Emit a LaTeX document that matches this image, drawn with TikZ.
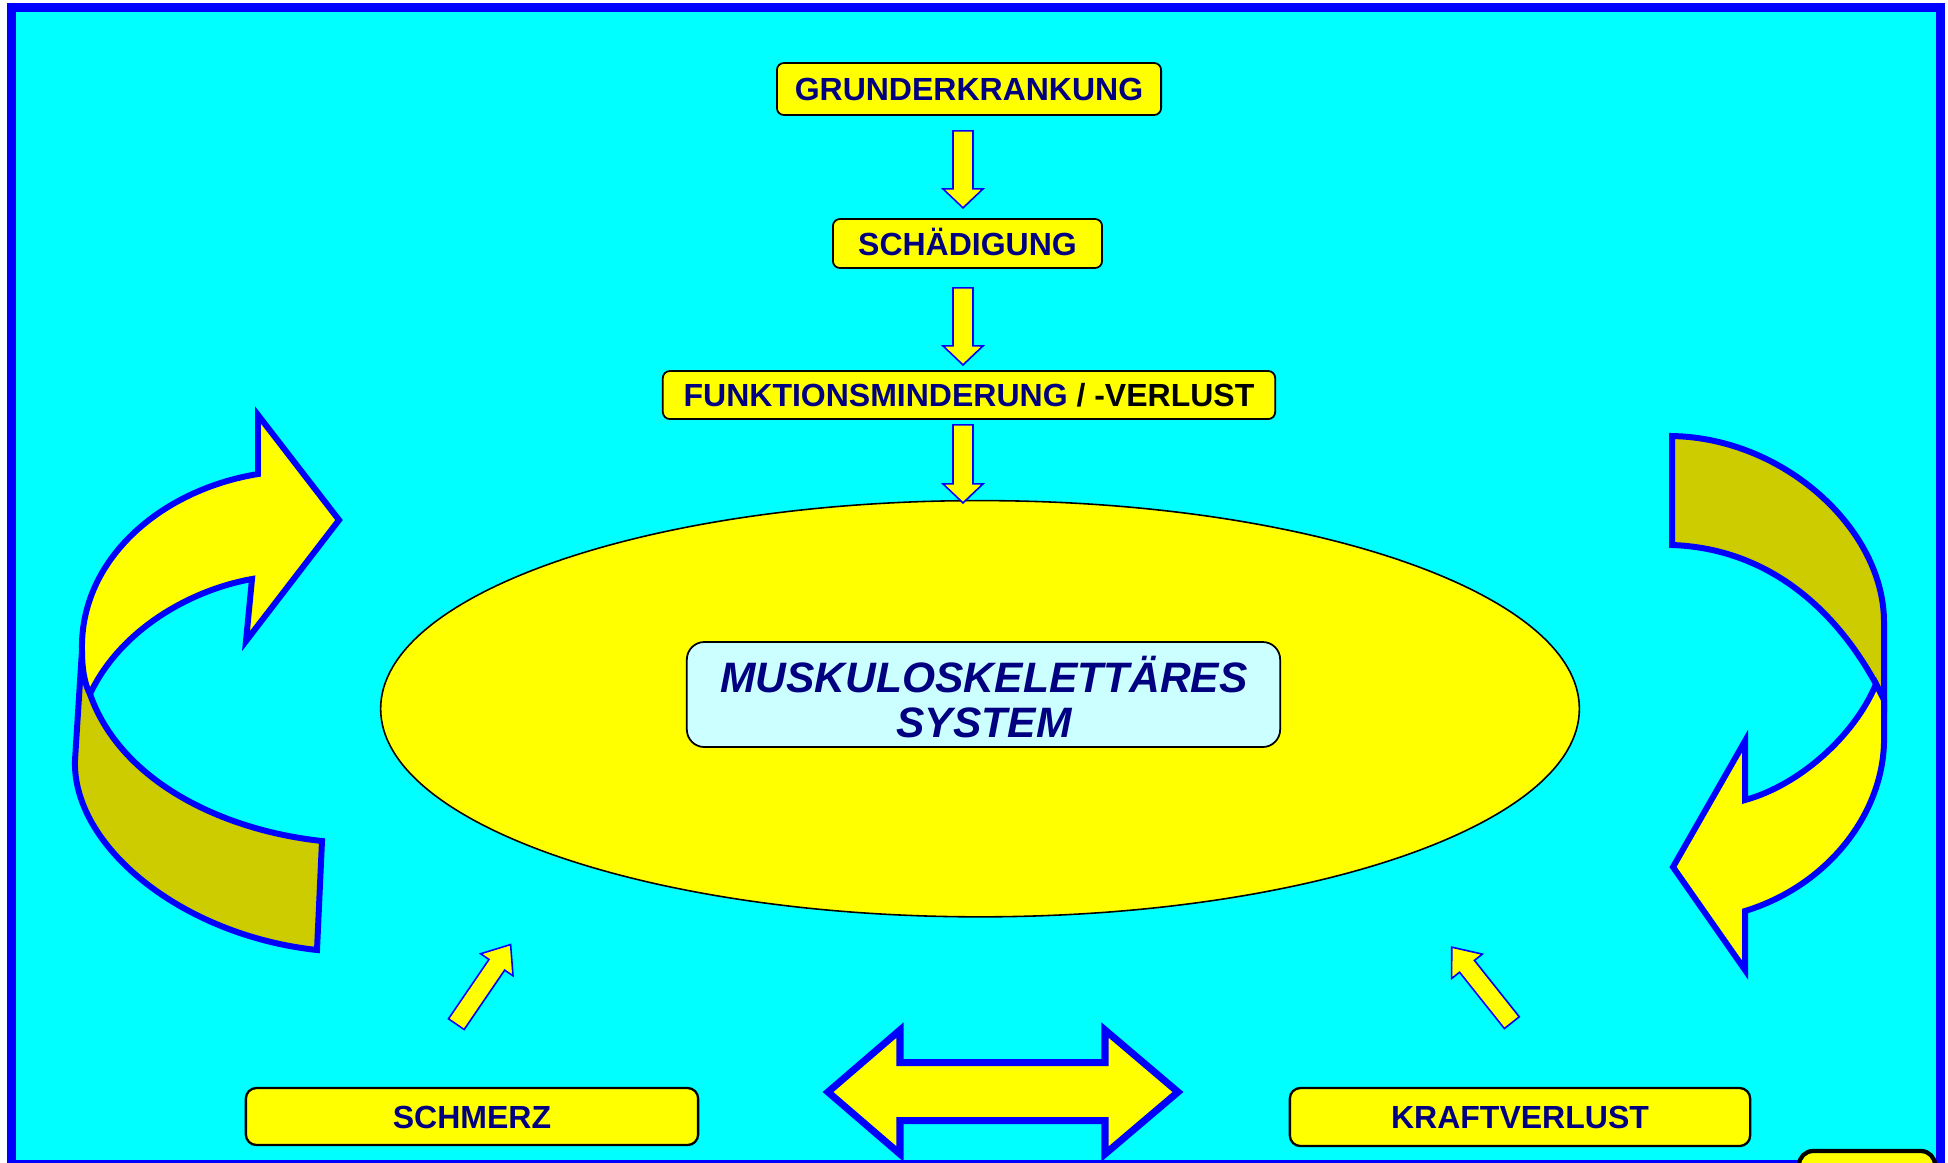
\documentclass[tikz,border=0pt]{standalone}
\usepackage{fontspec}
\setmainfont{Liberation Sans}
\usetikzlibrary{positioning,shapes.geometric}
\definecolor{sheetcyan}{RGB}{0,255,255}
\definecolor{signyellow}{RGB}{255,255,0}
\definecolor{ribbonback}{RGB}{204,204,0}
\definecolor{rimblue}{RGB}{0,0,255}
\definecolor{navyink}{RGB}{0,0,128}
\definecolor{palecyan}{RGB}{204,255,255}
\tikzset{
  frame/.style={draw=rimblue,fill=sheetcyan,line width=0.09cm},
  sign/.style={draw=black,fill=signyellow,rounded corners=2pt,line width=0.5pt,inner sep=0pt,
    font=\bfseries\fontsize{9.1}{11}\selectfont,text=navyink,text height=0.23cm,text depth=0pt},
  footsign/.style={sign,line width=0.65pt,rounded corners=3pt},
  core/.style={ellipse,draw=black,fill=signyellow,line width=0.45pt,inner sep=0pt},
  corebox/.style={draw=black,fill=palecyan,rounded corners=5pt,line width=0.5pt,align=center,inner sep=0pt,
    font=\bfseries\itshape\fontsize{12.1}{13}\selectfont,text=navyink},
  thinarrow/.style={draw=rimblue,fill=signyellow,line width=0.45pt,line join=miter},
  ribbon/.style={draw=rimblue,line width=1.7pt,line join=miter},
  % block arrow along +x: length / shaft half / head half / head length
  pics/blockarrow/.style n args={4}{code={
    \draw[thinarrow] (0,-#2) -- (#1-#4,-#2) -- (#1-#4,-#3) -- (#1,0) -- (#1-#4,#3) -- (#1-#4,#2) -- (0,#2) -- cycle;
  }},
}
\begin{document}
\begin{tikzpicture}[x=0.01cm,y=-0.01cm]
  \useasboundingbox (0,0) rectangle (1948,1162);
  \clip (0,0) rectangle (1948,1162);
  \fill[white] (0,0) rectangle (1948,1162);
  \draw[frame] (11.3,7.2) rectangle (1940.5,1164);

  % chain at the top
  \node[sign,minimum width=3.84cm,minimum height=0.52cm] (grund) at (969,89) {GRUNDERKRANKUNG};
  \node[sign,minimum width=2.69cm,minimum height=0.49cm] (schad) at (967.5,243.5) {SCHÄDIGUNG};
  \node[sign,minimum width=6.12cm,minimum height=0.48cm] (funkt) at (969,395)
    {FUNKTIONSMINDERUNG \textcolor{black}{/ -VERLUST}};

  % central ellipse
  \node[core,minimum width=11.98cm,minimum height=4.16cm] (musk) at (980,708.7) {};
  \node[corebox,minimum width=5.93cm,minimum height=1.05cm] (system) at (983.5,694.5) {};
  \node[font=\bfseries\itshape\fontsize{12.1}{13}\selectfont,text=navyink,align=center,inner sep=0pt]
    (systext) at (984,697) {MUSKULOSKELETTÄRES\\SYSTEM};

  \pic[rotate=-90] at ([shift={(-6,15)}]grund.south) {blockarrow={77}{10}{20}{19}};
  \pic[rotate=-90] at ([shift={(-4.5,19)}]schad.south) {blockarrow={77}{10}{20}{19}};
  \pic[rotate=-90] at ([shift={(-6,5)}]funkt.south) {blockarrow={78}{10}{20}{19}};

  % bottom row
  \node[footsign,minimum width=4.52cm,minimum height=0.57cm] (schmerz) at (472,1116.5) {SCHMERZ};
  \node[footsign,minimum width=4.60cm,minimum height=0.58cm] (kraft) at (1520,1117) {KRAFTVERLUST};
  \draw[draw=black,fill=signyellow,line width=1.2pt,rounded corners=4pt] (1799,1151) rectangle (1935,1210);

  \pic[rotate=55.7] at ([shift={(-15.7,-62.7)}]schmerz.north) {blockarrow={96.4}{9.5}{19.6}{24.5}};
  \pic[rotate=128.5] at ([shift={(-8.2,-64.2)}]kraft.north) {blockarrow={96.5}{9.5}{19.6}{24.5}};

  \draw[ribbon,line width=2pt,fill=signyellow] (828,1092) -- (900,1030) -- (900,1062.5) -- (1105,1062.5)
    -- (1105,1030) -- (1178,1092) -- (1105,1154) -- (1105,1120.5) -- (900,1120.5) -- (900,1154) -- cycle;

  % left ribbon arrow
  \draw[ribbon,fill=ribbonback] (82,650) -- (75,760) .. controls (72,845) and (180,935) .. (317,950)
    -- (322,841) .. controls (220,830) and (120,780) .. (90,694) -- cycle;
  \draw[ribbon,fill=signyellow] (258,474) .. controls (160,490) and (80,560) .. (82,650)
    .. controls (82,670) and (85,685) .. (90,694) .. controls (120,630) and (190,590) .. (252,579)
    -- (246,641) -- (339,520) -- (258,415) -- cycle;

  % right ribbon arrow
  \draw[ribbon,fill=ribbonback] (1672,436) .. controls (1785,438) and (1884,530) .. (1884,622)
    -- (1884,700) -- (1876,684) .. controls (1830,600) and (1760,548) .. (1672,545) -- cycle;
  \draw[ribbon,fill=signyellow] (1876,684) -- (1884,700) -- (1884,735) .. controls (1886,810) and (1830,885) .. (1745,911)
    -- (1745,970) -- (1673,867) -- (1745,741) -- (1745,800) .. controls (1800,785) and (1855,735) .. (1876,684) -- cycle;
\end{tikzpicture}
\end{document}
